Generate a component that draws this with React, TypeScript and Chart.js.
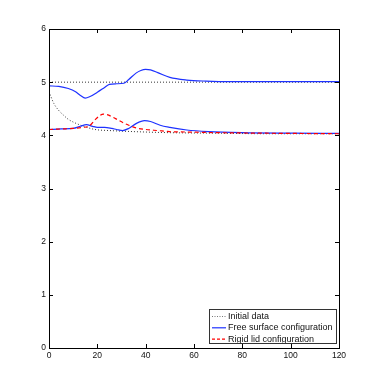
import React, { useEffect, useRef } from "react";
import { Chart, registerables } from "chart.js";

Chart.register(...registerables);

// ---- data ----
const xTicks = [0, 20, 40, 60, 80, 100, 120];
const yTicks = [0, 1, 2, 3, 4, 5, 6];

const initUpperX = [0, 120];
const initUpperY = [5, 5];

const initLowerX = [0, 2, 4, 6, 8, 10, 12, 15, 19, 25, 35, 50, 70, 90, 120];
const initLowerY = [4.82, 4.6, 4.47, 4.38, 4.3, 4.25, 4.21, 4.16, 4.11, 4.09, 4.07, 4.05, 4.04, 4.03, 4.03];

const freeUpperX = [0, 4, 8, 11, 13, 15, 17, 20, 23, 25, 28, 31, 33, 36, 38, 40, 42, 45, 50, 57, 65, 75, 90, 120];
const freeUpperY = [4.93, 4.92, 4.88, 4.82, 4.75, 4.7, 4.73, 4.81, 4.9, 4.96, 4.97, 4.98, 5.05, 5.17, 5.22, 5.24, 5.23, 5.18, 5.09, 5.04, 5.02, 5.01, 5.01, 5.01];

const freeLowerX = [0, 5, 10, 13, 15.5, 18, 20, 23, 26, 28, 30.5, 33, 36, 39.5, 42, 46, 50, 57, 66, 80, 100, 120];
const freeLowerY = [4.11, 4.12, 4.13, 4.17, 4.2, 4.17, 4.15, 4.15, 4.13, 4.11, 4.09, 4.13, 4.22, 4.275, 4.26, 4.19, 4.15, 4.1, 4.07, 4.05, 4.04, 4.035];

const rigidX = [0, 5, 10, 14, 16.5, 19, 21, 22.5, 24, 26.5, 28.5, 31, 33, 36, 40, 45, 50, 60, 70, 90, 120];
const rigidY = [4.11, 4.12, 4.13, 4.15, 4.17, 4.29, 4.37, 4.4, 4.39, 4.34, 4.29, 4.23, 4.19, 4.14, 4.11, 4.09, 4.07, 4.06, 4.05, 4.04, 4.03];

const legendLabels = ["Initial data", "Free surface configuration", "Rigid lid configuration"];

// ---- styles ----
const BLUE = "rgb(30,50,255)";
const RED = "rgb(255,0,0)";
const DOT = "#333";
const FONT = "'Liberation Sans', Arial, Helvetica, sans-serif";

const pts = (xs: number[], ys: number[]) => xs.map((x, i) => ({ x, y: ys[i] }));

const framePlugin = {
  id: "frame",
  afterDatasetsDraw(chart: any) {
    const { ctx, chartArea: a, scales } = chart;
    ctx.save();
    ctx.strokeStyle = "#000";
    ctx.lineWidth = 1;
    ctx.setLineDash([]);
    ctx.strokeRect(Math.round(a.left) + 0.5, Math.round(a.top) + 0.5, Math.round(a.right - a.left), Math.round(a.bottom - a.top));
    const tl = 4;
    ctx.beginPath();
    xTicks.forEach((v) => {
      const px = Math.round(scales.x.getPixelForValue(v)) + 0.5;
      ctx.moveTo(px, a.bottom);
      ctx.lineTo(px, a.bottom - tl);
      ctx.moveTo(px, a.top);
      ctx.lineTo(px, a.top + tl);
    });
    yTicks.forEach((v) => {
      const py = Math.round(scales.y.getPixelForValue(v)) + 0.5;
      ctx.moveTo(a.left, py);
      ctx.lineTo(a.left + tl, py);
      ctx.moveTo(a.right, py);
      ctx.lineTo(a.right - tl, py);
    });
    ctx.stroke();

    // legend
    const bx = a.left + 160, by = a.top + 280, bw = 127, bh = 34;
    ctx.fillStyle = "#fff";
    ctx.fillRect(bx, by, bw, bh);
    ctx.strokeStyle = "#333";
    ctx.strokeRect(Math.round(bx) + 0.5, Math.round(by) + 0.5, bw, bh);
    ctx.save();
    ctx.beginPath();
    ctx.rect(bx + 1, by + 1, bw - 1, bh - 1);
    ctx.clip();
    const styles = [
      { c: "#777", d: [1, 1.5], w: 1 },
      { c: BLUE, d: [], w: 1.2 },
      { c: RED, d: [3, 2], w: 1.2 },
    ];
    ctx.font = "9px " + FONT;
    ctx.textBaseline = "middle";
    ctx.textAlign = "left";
    legendLabels.forEach((lab, i) => {
      const yy = by + 7.5 + i * 11.3;
      const s = styles[i];
      ctx.strokeStyle = s.c;
      ctx.lineWidth = s.w;
      ctx.setLineDash(s.d);
      ctx.beginPath();
      ctx.moveTo(bx + 3, yy);
      ctx.lineTo(bx + 17, yy);
      ctx.stroke();
      ctx.fillStyle = "#111";
      ctx.fillText(lab, bx + 19, yy);
    });
    ctx.restore();
    ctx.restore();
  },
};

export default function App() {
  const ref = useRef<HTMLCanvasElement>(null);
  useEffect(() => {
    if (!ref.current) return;
    const chart = new Chart(ref.current, {
      type: "line",
      data: {
        datasets: [
          { data: pts(rigidX, rigidY), borderColor: RED, borderWidth: 1.2, borderDash: [4, 3], cubicInterpolationMode: "monotone" },
          { data: pts(freeLowerX, freeLowerY), borderColor: BLUE, borderWidth: 1.2, cubicInterpolationMode: "monotone" },
          { data: pts(freeUpperX, freeUpperY), borderColor: BLUE, borderWidth: 1.2, cubicInterpolationMode: "monotone" },
          { data: pts(initLowerX, initLowerY), borderColor: DOT, borderWidth: 1, borderDash: [1, 2], cubicInterpolationMode: "monotone" },
          { data: pts(initUpperX, initUpperY), borderColor: DOT, borderWidth: 1, borderDash: [1, 2] },
        ] as any,
      },
      options: {
        animation: false,
        responsive: false,
        devicePixelRatio: 1,
        elements: { point: { radius: 0 } },
        layout: { padding: { top: 29, right: 35, bottom: 22, left: 0 } },
        plugins: { legend: { display: false }, tooltip: { enabled: false } },
        scales: {
          x: {
            type: "linear",
            min: 0,
            max: 120,
            afterBuildTicks: (s: any) => { s.ticks = xTicks.map((v) => ({ value: v })); },
            afterFit: (s: any) => { s.height = 20; },
            grid: { display: false, drawTicks: false, tickLength: 0 },
            border: { display: false },
            ticks: { color: "#111", padding: 3, maxRotation: 0, font: { size: 8.5, family: FONT } },
          },
          y: {
            type: "linear",
            min: 0,
            max: 6,
            afterBuildTicks: (s: any) => { s.ticks = yTicks.map((v) => ({ value: v })); },
            afterFit: (s: any) => { s.width = 49; },
            grid: { display: false, drawTicks: false, tickLength: 0 },
            border: { display: false },
            ticks: { color: "#111", padding: 3, font: { size: 8.5, family: FONT } },
          },
        },
      } as any,
      plugins: [framePlugin],
    });
    return () => chart.destroy();
  }, []);
  return (
    <div style={{ position: "absolute", left: 0, top: 0, width: 374, height: 390, background: "#fff" }}>
      <canvas ref={ref} width={374} height={390} />
    </div>
  );
}
